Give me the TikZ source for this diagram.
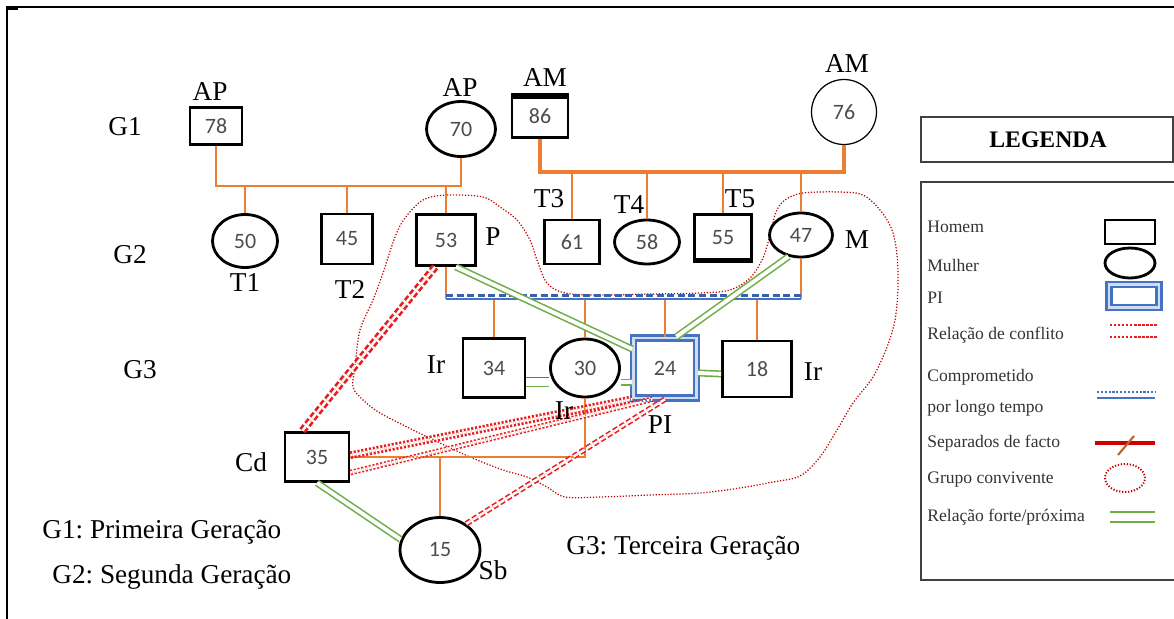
\documentclass[tikz,border=0pt]{standalone}
\usepackage{fontspec}
\setmainfont{Liberation Serif}
\newfontfamily\numfont{Carlito}
\usepackage{tikz}
\usetikzlibrary{shapes.geometric, positioning, calc}
\definecolor{laranja}{RGB}{237,125,49}
\definecolor{verde}{RGB}{112,173,71}
\definecolor{azulpi}{RGB}{68,114,196}
\definecolor{vermelho}{RGB}{232,28,28}
\tikzset{
  homem/.style={rectangle, draw=black, line width=1.6pt, inner sep=0pt, font=\numfont\fontsize{12.5}{14}\selectfont, text=black!70},
  mulher/.style={ellipse, draw=black, line width=1.6pt, inner sep=0pt, font=\numfont\fontsize{12.5}{14}\selectfont, text=black!70},
  pindex/.style={rectangle, draw=azulpi, line width=1.4pt, double=azulpi!25, double distance=1.6pt, inner sep=0pt, font=\numfont\fontsize{12.5}{14}\selectfont, text=black!70},
  rotulo/.style={font=\fontsize{15.5}{18}\selectfont, inner sep=0pt},
  laco/.style={draw=laranja, line width=1.5pt},
  forte/.style={draw=verde, line width=0.9pt, double=white, double distance=2.2pt},
  conflito/.style={draw=vermelho, line width=1.2pt, densely dotted, double=white, double distance=1.4pt},
  convivente/.style={draw=red!75!black, line width=0.7pt, densely dotted},
  legtexto/.style={font=\fontsize{10}{11}\selectfont, text=black!80, anchor=west, inner sep=0pt}
}

\begin{document}
\frenchspacing
\begin{tikzpicture}[x=0.02cm, y=-0.02cm]
        \useasboundingbox (0,0) rectangle (1174,619);
        % Moldura
        \draw[line width=1.1pt] (7,619) -- (7,7) -- (1174,7);
        \draw[line width=2.2pt] (7,8) -- (18,8);

        % Grupo convivente
        \draw[convivente] plot[smooth cycle, tension=0.55] coordinates {
          (423,200) (447,195) (483,197) (500,207) (517,220) (530,240) (537,260)
          (547,283) (565,293) (600,295) (650,294) (700,293) (730,290) (750,278)
          (763,258) (770,235) (776,212) (785,200) (803,193) (840,192) (863,195)
          (880,210) (892,230) (897,255) (898,287) (895,320) (887,347) (873,377)
          (853,403) (837,430) (820,457) (800,476) (773,482) (740,488) (700,493)
          (650,495) (600,497) (565,497) (547,487) (527,477) (503,470) (470,457)
          (440,443) (413,430) (380,413) (363,400) (353,387) (355,367) (360,330)
          (373,300) (383,273) (395,237) (405,218)};

        % Primeira geracao
        \node[homem, minimum width=1.04cm, minimum height=0.74cm] (n78) at (216,126) {78};
        \node[mulher, minimum width=1.38cm, minimum height=1.1cm] (n70) at (461,129) {70};
        \node[homem, minimum width=1.12cm, minimum height=0.86cm] (n86) at (540,116) {86};
        \node[mulher, line width=0.7pt, minimum width=1.3cm, minimum height=1.3cm] (n76) at (844,112) {76};
        \fill (n86.north west) rectangle ($(n86.north east)+(0,6)$);

        % Segunda geracao
        \node[mulher, minimum width=1.3cm, minimum height=1.06cm] (n50) at (245,241) {50};
        \node[homem, minimum width=1.02cm, minimum height=1.0cm] (n45) at (347,239) {45};
        \node[homem, minimum width=1.18cm, minimum height=1.02cm] (n53) at (446,240) {53};
        \node[homem, minimum width=1.1cm, minimum height=0.88cm] (n61) at (572,242) {61};
        \node[mulher, minimum width=1.3cm, minimum height=0.88cm] (n58) at (647,242) {58};
        \node[homem, minimum width=1.14cm, minimum height=0.94cm] (n55) at (723,238) {55};
        \node[mulher, minimum width=1.26cm, minimum height=0.88cm] (n47) at (801,235) {47};
        \fill ($(n55.south west)+(0,-5)$) rectangle (n55.south east);

        % Terceira geracao
        \node[homem, minimum width=1.24cm, minimum height=1.18cm] (n34) at (494,368) {34};
        \node[mulher, minimum width=1.38cm, minimum height=1.16cm] (n30) at (585,368) {30};
        \node[pindex, minimum width=1.26cm, minimum height=1.2cm] (n24) at (665,368) {24};
        \node[homem, minimum width=1.38cm, minimum height=1.12cm] (n18) at (757,369) {18};
        \node[homem, minimum width=1.28cm, minimum height=0.98cm] (n35) at (317,457) {35};
        \node[mulher, minimum width=1.6cm, minimum height=1.3cm] (n15) at (440,550) {15};

        % Lacos de parentesco
        \coordinate (fam1) at (340,186);
        \coordinate (fam2) at (690,172);
        \coordinate (cas) at (626,299);
        \draw[laco] (n78.south) |- (fam1) -| (n70.south);
        \draw[laco] (n50.north) -- (n50.north |- fam1);
        \draw[laco] (n45.north) -- (n45.north |- fam1);
        \draw[laco] (n53.north) -- (n53.north |- fam1);
        \draw[laco, line width=2.2pt] (n86.south) |- (fam2) -| (n76.south);
        \draw[laco] (n61.north) -- (n61.north |- fam2);
        \draw[laco] (n58.north) -- (n58.north |- fam2);
        \draw[laco] (n55.north) -- (n55.north |- fam2);
        \draw[laco] (n47.north) -- (n47.north |- fam2);
        \draw[laco] (n53.south) -- (n53.south |- cas);
        \draw[laco] (n47.south) -- (n47.south |- cas);
        \draw[laco] (n34.north) -- (n34.north |- cas);
        \draw[laco] (n30.north) -- (n30.north |- cas);
        \draw[laco] (n24.north) -- (n24.north |- cas);
        \draw[laco] (n18.north) -- (n18.north |- cas);
        \draw[laco] (n35.east) -- (n35.east -| n30.south) -- (n30.south);
        \draw[laco] (n15.north) -- (n15.north |- n35.east);

        % Comprometido por longo tempo
        \draw[azulpi, line width=0.9pt] (n53.south |- cas) -- (n47.south |- cas);
        \draw[azulpi!85!black, line width=1.7pt, dash pattern=on 4pt off 2pt] ([yshift=2.2pt]n53.south |- cas) -- ([yshift=2.2pt]n47.south |- cas);

        % Relacoes fortes
        \draw[forte] (n53.-70) -- (n24.150);
        \draw[forte] (n47.-120) -- (n24.70);
        \draw[forte] ([yshift=-2.8pt]n24.east) -- ([yshift=-2.8pt]n18.west);
        \draw[forte] ([yshift=-8pt]n30.east) -- ([yshift=-8pt]n24.west);
        \draw[azulpi, line width=0.9pt] ([yshift=-5.5pt]n34.east) -- ([yshift=-5.5pt]n30.west);
        \draw[verde, line width=0.9pt] ([yshift=-10.5pt]n34.east) -- ([yshift=-10.5pt]n30.west);
        \draw[forte] (n35.south) -- (n15.165);

        % Relacoes de conflito
        \draw[conflito, line width=1.5pt, dash pattern=on 3pt off 1.5pt] (n53.-112) -- (n35.120);
        \draw[conflito, line width=1.5pt] ([yshift=1pt]n35.east) -- (n24.south west);
        \draw[conflito, line width=0.9pt] (n35.-25) -- (n24.-112);
        \draw[conflito, line width=0.9pt, dash pattern=on 3pt off 1.5pt] (n15.45) -- (n24.south);

        % Rotulos
        \node[rotulo] (lAP1) at (210,92) {AP};
        \node[rotulo] (lAP2) at (460,88) {AP};
        \node[rotulo] (lAM1) at (545,78) {AM};
        \node[rotulo] (lAM2) at (847,64) {AM};
        \node[rotulo] (lG1) at (125,127) {G1};
        \node[rotulo] (lG2) at (130,255) {G2};
        \node[rotulo] (lG3) at (140,370) {G3};
        \node[rotulo] (lT1) at (245,283) {T1};
        \node[rotulo] (lT2) at (350,289) {T2};
        \node[rotulo] (lP) at (493,237) {P};
        \node[rotulo] (lT3) at (549,199) {T3};
        \node[rotulo] (lT4) at (629,205) {T4};
        \node[rotulo] (lT5) at (740,199) {T5};
        \node[rotulo] (lM) at (857,240) {M};
        \node[rotulo] (lIr1) at (436,365) {Ir};
        \node[rotulo] (lIr2) at (564,411) {Ir};
        \node[rotulo] (lPI) at (660,425) {PI};
        \node[rotulo] (lIr3) at (813,372) {Ir};
        \node[rotulo] (lCd) at (251,462) {Cd};
        \node[rotulo] (lSb) at (493,570) {Sb};
        \node[rotulo, anchor=west] (gen1) at (42,532) {G1: Primeira Geração};
        \node[rotulo, anchor=west] (gen2) at (52,577) {G2: Segunda Geração};
        \node[rotulo, anchor=west] (gen3) at (566,548) {G3: Terceira Geração};

        % Legenda
        \draw[black!75, line width=1.4pt] (921,117) rectangle (1173,162);
        \node[font=\bfseries\fontsize{13.5}{15}\selectfont] (leg) at (1048,140) {LEGENDA};
        \draw[black!75, line width=1.4pt] (1174,182) -- (921,182) -- (921,580) -- (1174,580);
        \node[legtexto] (tHomem) at (927,227) {Homem};
        \node[legtexto] (tMulher) at (927,265) {Mulher};
        \node[legtexto] (tPI) at (927,298) {PI};
        \node[legtexto] (tConf) at (927,335) {Relação de conflito};
        \node[legtexto] (tComp1) at (927,377) {Comprometido};
        \node[legtexto] (tComp2) at (927,408) {por longo tempo};
        \node[legtexto] (tSep) at (927,443) {Separados de facto};
        \node[legtexto] (tGrupo) at (927,480) {Grupo convivente};
        \node[legtexto] (tForte) at (927,517) {Relação forte/próxima};
        \node[homem, minimum width=1.0cm, minimum height=0.48cm] (sHomem) at (1130,232) {};
        \node[mulher, minimum width=1.0cm, minimum height=0.6cm] (sMulher) at (1130,263) {};
        \node[pindex, minimum width=1.0cm, minimum height=0.46cm] (sPI) at (1134,296) {};
        \draw[vermelho, line width=1.3pt, densely dotted] (1110,325) -- (1157,325);
        \draw[vermelho, line width=1.3pt, densely dotted] (1110,337) -- (1157,337);
        \draw[azulpi, line width=1.2pt, densely dotted] (1097,392) -- (1155,392);
        \draw[azulpi, line width=0.9pt] (1097,398) -- (1155,398);
        \draw[red!80!black, line width=2pt] (1095,443) -- (1155,443);
        \draw[laranja!80!black, line width=1.2pt] (1118,455) .. controls (1126,446) .. (1134,436);
        \draw[convivente, line width=1.1pt] (1125,478) ellipse [x radius=0.4cm, y radius=0.28cm];
        \draw[verde, line width=1.6pt] (1110,512) -- (1155,512);
        \draw[verde, line width=1.6pt] (1110,522) -- (1155,522);
    \end{tikzpicture}
\end{document}
